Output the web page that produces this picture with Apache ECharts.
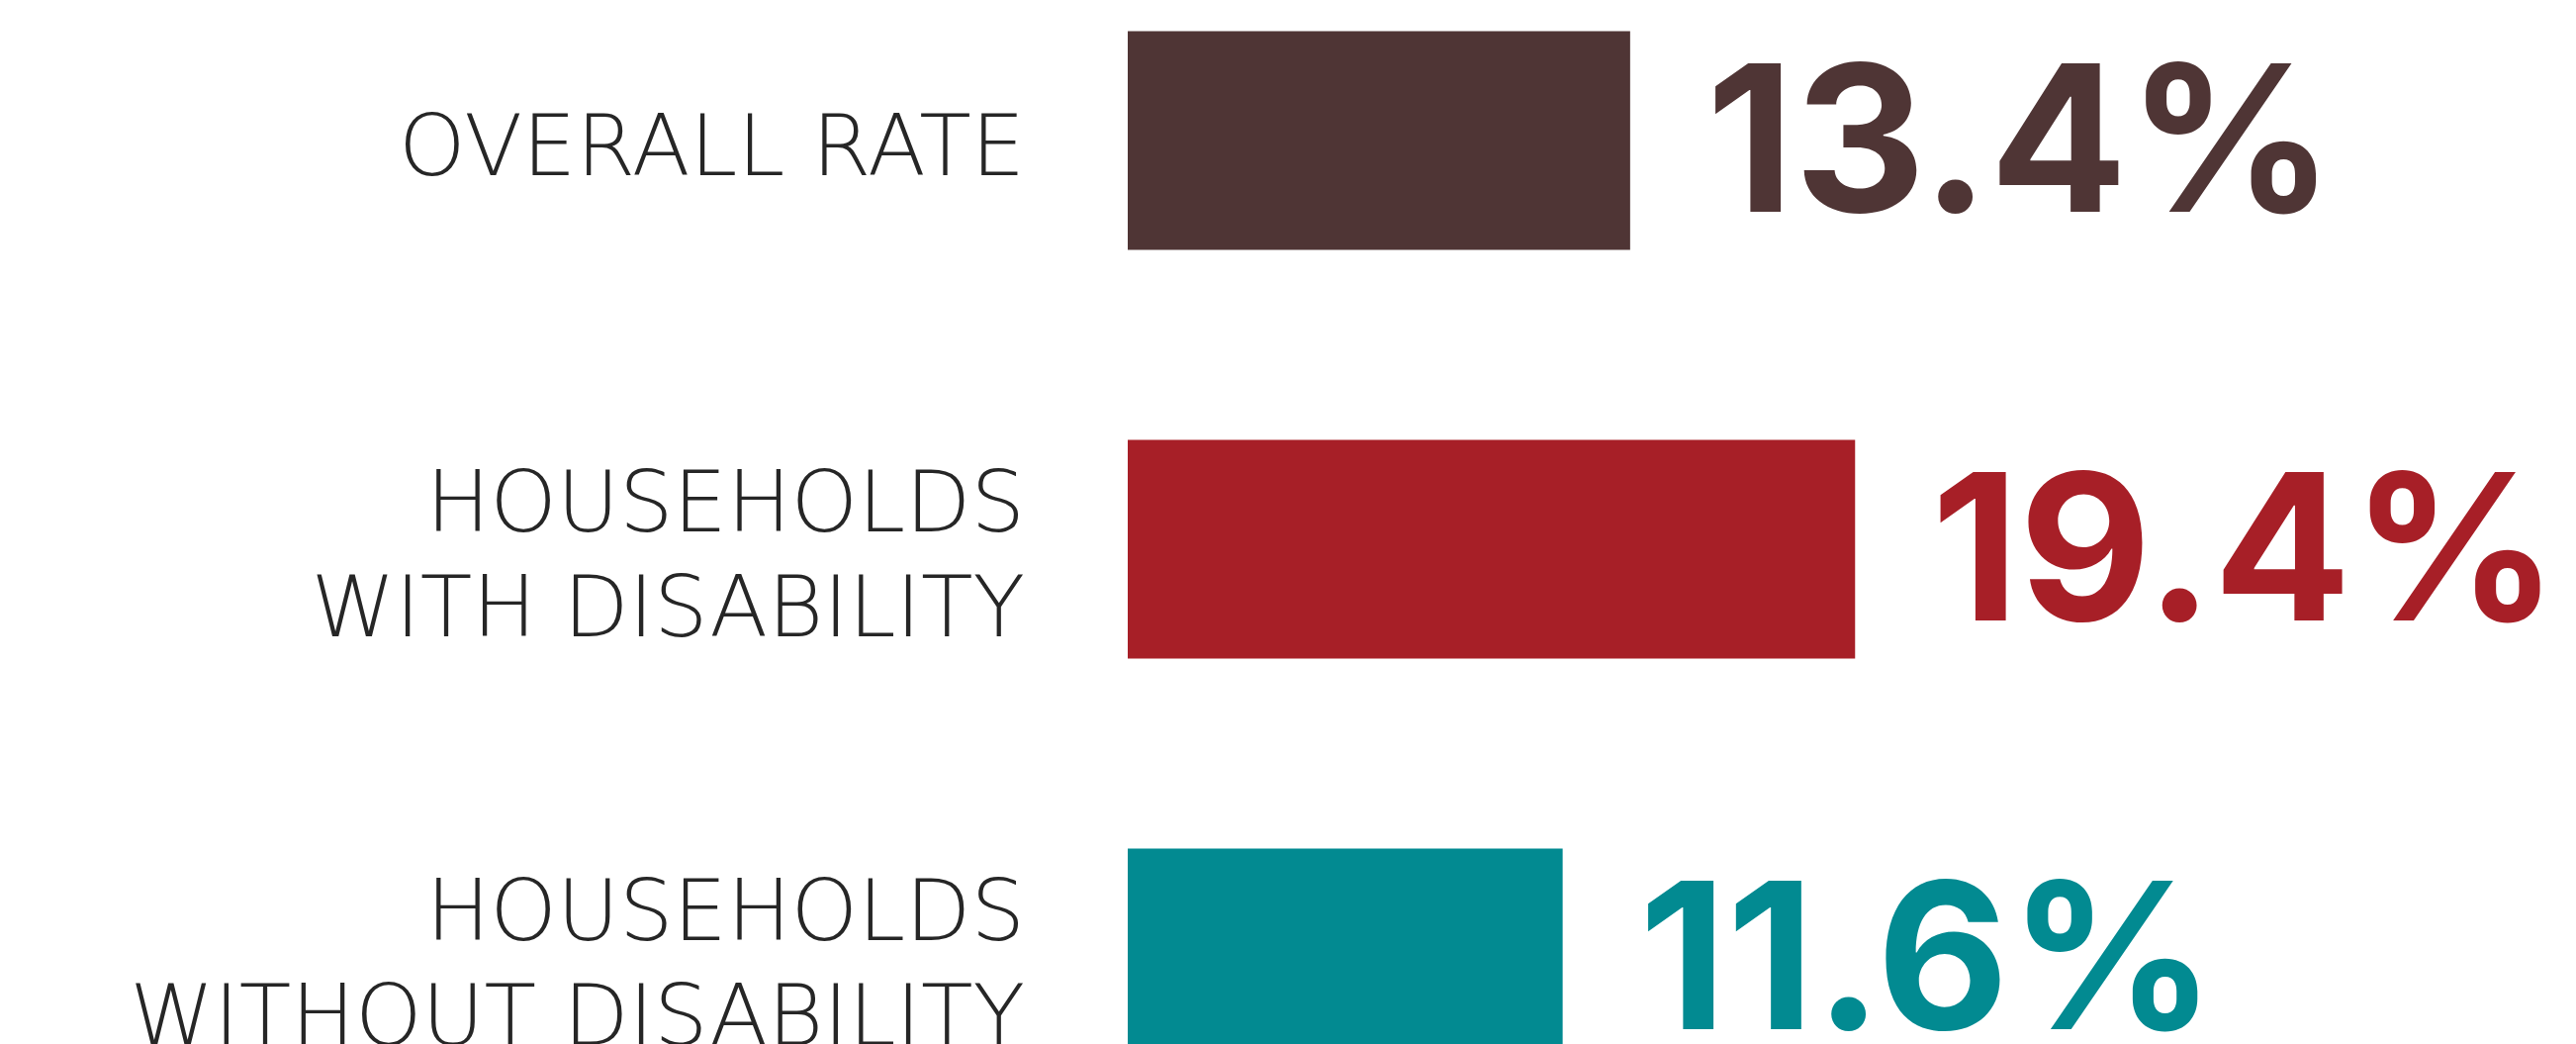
<!DOCTYPE html>
<html>
<head>
<meta charset="utf-8">
<style>
  html, body { margin: 0; padding: 0; background: #ffffff; }
  #chart { width: 2604px; height: 1055px; }
</style>
<script src="https://cdn.jsdelivr.net/npm/echarts@6/dist/echarts.min.js"></script>
</head>
<body>
<div id="chart"></div>
<script>
// Rates by household group (percent)
const categories = ['OVERALL RATE', 'HOUSEHOLDS\nWITH DISABILITY', 'HOUSEHOLDS\nWITHOUT DISABILITY'];
const rates = [13.4, 19.4, 11.6];
const barColors = ['#4f3535', '#a71f27', '#028a91'];

const chart = echarts.init(document.getElementById('chart'), null, { renderer: 'canvas' });

const seriesData = rates.map((v, i) => ({
  value: v,
  itemStyle: { color: barColors[i] },
  label: { color: barColors[i] }
}));

// Categories sit on the grid edges (boundaryGap off), so the last bar runs past the bottom.
// The second grid only carries the category names, set a little lower than the bars.
const barGrid = { left: 1140, width: 1137, top: 142, height: 826, outerBoundsMode: 'none' };
const nameGrid = { left: 1140, width: 1137, top: 155, height: 826, outerBoundsMode: 'none' };

chart.setOption({
  animation: false,
  backgroundColor: '#ffffff',
  grid: [barGrid, nameGrid],
  xAxis: [
    { type: 'value', gridIndex: 0, min: 0, max: 30, show: false },
    { type: 'value', gridIndex: 1, min: 0, max: 30, show: false }
  ],
  yAxis: [
    {
      type: 'category', gridIndex: 0, inverse: true, boundaryGap: false,
      data: categories, show: false
    },
    {
      type: 'category', gridIndex: 1, inverse: true, boundaryGap: false,
      data: categories,
      axisLine: { show: false },
      axisTick: { show: false },
      splitLine: { show: false },
      axisLabel: {
        margin: 104,
        fontFamily: '"DejaVu Sans", Lato, sans-serif',
        fontWeight: 200,
        fontSize: 86,
        lineHeight: 106,
        color: '#262626',
        align: 'right'
      }
    }
  ],
  series: [{
    type: 'bar',
    xAxisIndex: 0,
    yAxisIndex: 0,
    barWidth: 221,
    clip: false,
    data: seriesData,
    label: {
      show: true,
      position: 'right',
      distance: 77,
      offset: [0, 10],
      fontFamily: 'Inter, Lato, sans-serif',
      fontWeight: 700,
      fontSize: 206,
      formatter: p => p.value.toFixed(1) + '%'
    }
  }]
});
</script>
</body>
</html>
